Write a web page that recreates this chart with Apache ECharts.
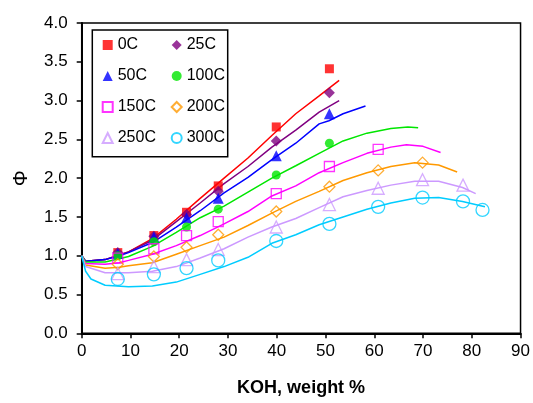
<!DOCTYPE html>
<html>
<head>
<meta charset="utf-8">
<script src="https://cdn.jsdelivr.net/npm/echarts@6/dist/echarts.min.js"></script>
<style>html,body{margin:0;padding:0;background:#fff}#c{width:533px;height:403px}</style>
</head>
<body>
<div id="c"></div>
<script>
// ---- data ----
const seriesNames = ['0C', '25C', '50C', '100C', '150C', '200C', '250C', '300C'];
const kohPoints = [7.4, 14.8, 21.5, 28.0, 39.9, 50.8, 60.8, 69.9, 78.2, 82.2];
const phi0C   = [1.04, 1.26, 1.56, 1.90, 2.66, 3.41];
const phi25C  = [1.04, 1.25, 1.53, 1.83, 2.48, 3.10];
const phi50C  = [1.03, 1.24, 1.49, 1.74, 2.29, 2.83];
const phi100C = [1.00, 1.18, 1.37, 1.60, 2.04, 2.45];
const phi150C = [0.97, 1.09, 1.26, 1.44, 1.80, 2.15, 2.37];
const phi200C = [0.89, 0.99, 1.11, 1.27, 1.57, 1.89, 2.10, 2.20];
const phi250C = [0.77, 0.86, 0.95, 1.08, 1.37, 1.66, 1.87, 1.98, 1.91];
const phi300C = [0.70, 0.76, 0.84, 0.94, 1.19, 1.41, 1.63, 1.75, 1.70, 1.59];

const fit0C = [[0,1.0],[0.8,0.93],[4.8,0.95],[7.7,1.01],[9.6,1.05],[14.5,1.22],[19.4,1.47],[24.3,1.74],[29.2,2.00],[34.1,2.26],[39,2.55],[43.9,2.83],[48.7,3.06],[52.8,3.26]];
const fit25C = [[0,1.0],[0.8,0.93],[4.8,0.95],[7.7,1.01],[9.6,1.05],[14.5,1.20],[19.4,1.44],[24.3,1.68],[29.2,1.93],[34.1,2.15],[39,2.40],[43.9,2.62],[48.7,2.85],[52.8,3.00]];
const fit50C = [[0,1.0],[0.8,0.93],[4.8,0.95],[7.7,1.00],[9.6,1.04],[14.5,1.17],[19.4,1.37],[24.3,1.58],[29.2,1.81],[34.1,2.01],[39,2.24],[43.9,2.45],[48.7,2.70],[50.7,2.74],[53.6,2.83],[58.2,2.93]];
const fit100C = [[0,1.0],[0.8,0.92],[4.8,0.92],[7.7,0.96],[9.6,0.99],[14.5,1.12],[19.4,1.30],[24.3,1.49],[29.2,1.64],[34.1,1.82],[39,2.00],[43.9,2.16],[48.7,2.32],[53.6,2.48],[58.5,2.58],[63.4,2.64],[66.9,2.66],[69,2.65]];
const fit150C = [[0,1.0],[0.8,0.90],[4.8,0.89],[7.7,0.91],[9.6,0.94],[14.5,1.02],[19.4,1.13],[24.3,1.26],[29.2,1.41],[34.1,1.57],[39,1.77],[43.9,1.90],[48.7,2.07],[53.6,2.20],[58.5,2.32],[63.4,2.40],[66.6,2.43],[70,2.41],[73.6,2.33]];
const fit200C = [[0,1.0],[0.8,0.88],[4.8,0.84],[7.7,0.85],[9.6,0.87],[14.5,0.91],[19.4,1.02],[24.3,1.13],[29.2,1.24],[34.1,1.39],[39,1.55],[43.9,1.70],[48.7,1.83],[53.6,1.97],[58.5,2.07],[63.4,2.15],[68.3,2.20],[73.2,2.17],[77,2.08]];
const fit250C = [[0,1.0],[0.8,0.86],[4.8,0.78],[7.7,0.78],[9.6,0.78],[14.5,0.80],[19.4,0.86],[24.3,0.97],[29.2,1.09],[34.1,1.24],[39,1.37],[43.9,1.48],[48.7,1.62],[53.6,1.76],[58.5,1.84],[63.4,1.91],[68.3,1.96],[73.2,1.96],[78.1,1.88],[80.8,1.80]];
const fit300C = [[0,1.0],[0.8,0.80],[1.9,0.70],[4.8,0.62],[9.6,0.60],[14.5,0.61],[19.4,0.66],[24.3,0.76],[29.2,0.86],[34.1,0.98],[39,1.16],[43.9,1.27],[48.7,1.40],[53.6,1.50],[58.5,1.60],[63.4,1.68],[68.3,1.74],[73.2,1.75],[78.1,1.70],[82.7,1.63]];

const xTicks = [0, 10, 20, 30, 40, 50, 60, 70, 80, 90];
const yTicks = ['0.0', '0.5', '1.0', '1.5', '2.0', '2.5', '3.0', '3.5', '4.0'];

// ---- styling ----
const FONT = '"Liberation Sans", Arial, sans-serif';
const colors = ['#FF0000', '#800080', '#0000FF', '#00E600', '#FF00FF', '#FF9900', '#CC99FF', '#00CCFF'];
const symbols = ['rect', 'diamond', 'triangle', 'circle', 'rect', 'diamond', 'triangle', 'circle'];
const sizes = [9, 11, 11, 9, 10, 11, 12, 13];
const hollow = [false, false, false, false, true, true, true, true];
const phis = [phi0C, phi25C, phi50C, phi100C, phi150C, phi200C, phi250C, phi300C];
const fits = [fit0C, fit25C, fit50C, fit100C, fit150C, fit200C, fit250C, fit300C];

const series = [];
fits.forEach((f, i) => {
  series.push({
    type: 'line', name: seriesNames[i] + ' model', data: f, symbol: 'none',
    lineStyle: { color: colors[i], width: 1.5 }, itemStyle: { color: colors[i] },
    z: 2, silent: true, animation: false
  });
});
phis.forEach((p, i) => {
  series.push({
    type: 'scatter', name: seriesNames[i],
    data: p.map((v, k) => [kohPoints[k], v]),
    symbol: symbols[i], symbolSize: sizes[i],
    itemStyle: hollow[i]
      ? { color: 'rgba(255,255,255,0)', borderColor: colors[i], borderWidth: 1.3 }
      : { color: colors[i] },
    z: 5, animation: false
  });
});

const legendCommon = {
  orient: 'vertical', itemGap: 15, itemWidth: 10, itemHeight: 10, padding: 0,
  textStyle: { fontSize: 16, fontFamily: FONT, color: '#000', lineHeight: 16 },
  selectedMode: false
};

const chart = echarts.init(document.getElementById('c'), null, { renderer: 'canvas' });
chart.setOption({
  animation: false,
  backgroundColor: '#fff',
  grid: { left: 81.7, right: 12, top: 23, bottom: 69.7, show: true, borderColor: '#000', borderWidth: 1.5, backgroundColor: 'transparent' },
  xAxis: {
    type: 'value', min: xTicks[0], max: xTicks[xTicks.length - 1], interval: 10,
    name: 'KOH, weight %', nameLocation: 'middle', nameGap: 46,
    nameTextStyle: { fontSize: 18, fontWeight: 'bold', fontFamily: FONT, color: '#000' },
    axisLine: { lineStyle: { color: '#000', width: 2 } },
    axisTick: { inside: false, length: 5, lineStyle: { color: '#000', width: 1.5 } },
    axisLabel: { fontSize: 17, fontFamily: FONT, color: '#000', margin: 10 },
    splitLine: { show: false }
  },
  yAxis: {
    type: 'value', min: 0, max: 4, interval: 0.5,
    name: 'Φ', nameLocation: 'middle', nameGap: 50,
    nameTextStyle: { fontSize: 20, fontFamily: FONT, color: '#000' },
    axisLine: { lineStyle: { color: '#000', width: 2 } },
    axisTick: { inside: false, length: 5, lineStyle: { color: '#000', width: 1.5 } },
    axisLabel: { fontSize: 17, fontFamily: FONT, color: '#000', margin: 14,
      formatter: (v) => yTicks[Math.round(v * 2)] },
    splitLine: { show: false }
  },
  legend: [
    Object.assign({}, legendCommon, { left: 101.7, top: 37, data: ['0C', '50C', '150C', '250C'] }),
    Object.assign({}, legendCommon, { left: 170.7, top: 37, data: ['25C', '100C', '200C', '300C'] })
  ],
  graphic: [{
    type: 'rect', shape: { x: 92.3, y: 30, width: 135.4, height: 126.7 },
    style: { fill: 'rgba(255,255,255,0)', stroke: '#000', lineWidth: 1.5 }, z: 1
  }],
  series: series
});
</script>
</body>
</html>
